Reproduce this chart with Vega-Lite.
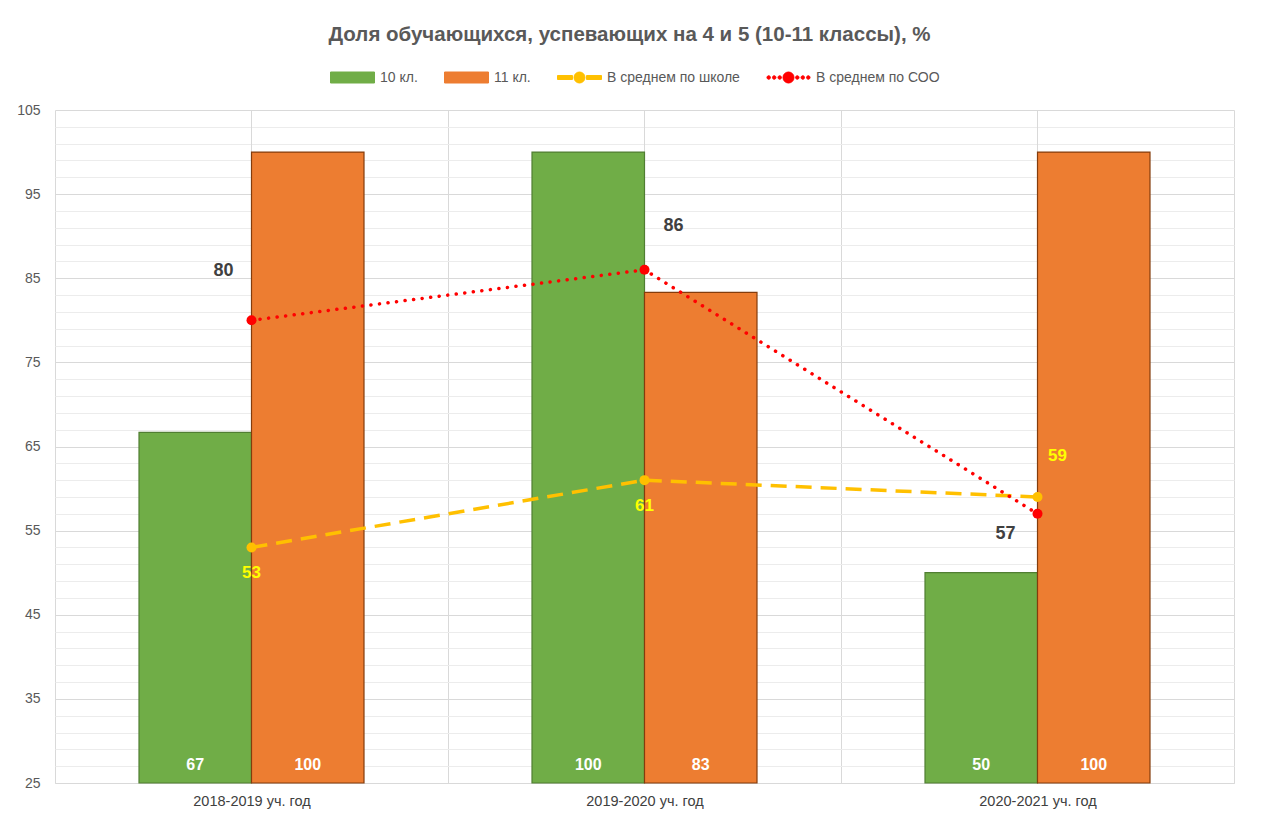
{
  "$schema": "https://vega.github.io/schema/vega-lite/v6.json",
  "width": 1179,
  "height": 673,
  "autosize": {"type": "none"},
  "padding": {"left": 55, "top": 110, "right": 27, "bottom": 35},
  "background": "white",
  "title": {
    "text": "Доля обучающихся, успевающих на 4 и 5 (10-11 классы), %",
    "font": "Liberation Sans",
    "fontSize": 20.5,
    "fontWeight": "bold",
    "color": "#595959",
    "anchor": "middle",
    "dx": -15,
    "offset": 10
  },
  "config": {"view": {"stroke": null}, "font": "Liberation Sans"},
  "datasets": {
    "bars": [
      {"year": "2018-2019 уч. год", "series": "10 кл.", "value": 66.67},
      {"year": "2018-2019 уч. год", "series": "11 кл.", "value": 100},
      {"year": "2019-2020 уч. год", "series": "10 кл.", "value": 100},
      {"year": "2019-2020 уч. год", "series": "11 кл.", "value": 83.33},
      {"year": "2020-2021 уч. год", "series": "10 кл.", "value": 50},
      {"year": "2020-2021 уч. год", "series": "11 кл.", "value": 100}
    ],
    "lines": [
      {"year": "2018-2019 уч. год", "series": "В среднем по школе", "value": 53},
      {"year": "2019-2020 уч. год", "series": "В среднем по школе", "value": 61},
      {"year": "2020-2021 уч. год", "series": "В среднем по школе", "value": 59},
      {"year": "2018-2019 уч. год", "series": "В среднем по СОО", "value": 80},
      {"year": "2019-2020 уч. год", "series": "В среднем по СОО", "value": 86},
      {"year": "2020-2021 уч. год", "series": "В среднем по СОО", "value": 57}
    ]
  },
  "encoding": {
    "x": {
      "field": "year",
      "type": "nominal",
      "sort": null,
      "title": null,
      "scale": {"paddingInner": 0, "paddingOuter": 0},
      "axis": {
        "grid": true,
        "tickBand": "extent",
        "gridColor": "#d9d9d9",
        "domain": true,
        "domainColor": "#d9d9d9",
        "ticks": false,
        "labelAngle": 0,
        "labelFont": "Liberation Sans",
        "labelFontSize": 14.5,
        "labelColor": "#404040",
        "labelPadding": 11
      }
    },
    "y": {
      "field": "value",
      "type": "quantitative",
      "title": null,
      "scale": {"domain": [25, 105], "zero": false, "nice": false},
      "axis": {
        "values": [25, 27, 29, 31, 33, 35, 37, 39, 41, 43, 45, 47, 49, 51, 53, 55, 57, 59, 61, 63, 65, 67, 69, 71, 73, 75, 77, 79, 81, 83, 85, 87, 89, 91, 93, 95, 97, 99, 101, 103, 105],
        "labelExpr": "(datum.value - 25) % 10 === 0 ? datum.label : ''",
        "gridColor": {"condition": {"test": "(datum.value - 25) % 10 === 0", "value": "#d9d9d9"}, "value": "#ececec"},
        "domain": false,
        "ticks": false,
        "labelFont": "Liberation Sans",
        "labelFontSize": 14,
        "labelColor": "#595959",
        "labelPadding": 15
      }
    }
  },
  "layer": [
    {
      "data": {"name": "bars"},
      "transform": [{"filter": "datum.series === '10 кл.'"}],
      "mark": {"type": "rule", "color": "#d9d9d9", "strokeWidth": 1},
      "encoding": {"y": {"datum": 25}, "y2": {"datum": 105}}
    },
    {
      "data": {"name": "bars"},
      "mark": {"type": "bar", "strokeWidth": 1.2},
      "encoding": {
        "xOffset": {"field": "series", "type": "nominal", "sort": null, "scale": {"paddingInner": 0, "paddingOuter": 0.7467}},
        "y2": {"datum": 25},
        "color": {
          "field": "series",
          "type": "nominal",
          "scale": {
            "domain": ["10 кл.", "11 кл.", "В среднем по школе", "В среднем по СОО"],
            "range": ["#70ad47", "#ed7d31", "#ffc000", "#ff0000"]
          },
          "legend": {
            "orient": "none",
            "legendX": 275,
            "legendY": -55,
            "direction": "horizontal",
            "title": null,
            "labelFont": "Liberation Sans",
            "labelFontSize": 14,
            "labelColor": "#595959",
            "symbolSize": 1936,
            "labelOffset": 5,
            "columnPadding": 24,
            "encode": {
              "symbols": {
                "update": {
                  "shape": {"signal": "datum.value === 'В среднем по школе' ? 'M-1,-0.09H-0.32V0.09H-1Z M0.32,-0.09H1V0.09H0.32Z M-0.25,0A0.25,0.25 0 1,0 0.25,0A0.25,0.25 0 1,0 -0.25,0Z' : datum.value === 'В среднем по СОО' ? 'M-0.98,0A0.08,0.08 0 1,0 -0.82,0A0.08,0.08 0 1,0 -0.98,0Z M-0.73,0A0.08,0.08 0 1,0 -0.57,0A0.08,0.08 0 1,0 -0.73,0Z M-0.48,0A0.08,0.08 0 1,0 -0.32,0A0.08,0.08 0 1,0 -0.48,0Z M0.32,0A0.08,0.08 0 1,0 0.48,0A0.08,0.08 0 1,0 0.32,0Z M0.57,0A0.08,0.08 0 1,0 0.73,0A0.08,0.08 0 1,0 0.57,0Z M0.82,0A0.08,0.08 0 1,0 0.98,0A0.08,0.08 0 1,0 0.82,0Z M-0.25,0A0.25,0.25 0 1,0 0.25,0A0.25,0.25 0 1,0 -0.25,0Z' : 'M-1,-0.25H1V0.25H-1Z'"},
                  "fill": {"signal": "scale('color', datum.value)"},
                  "stroke": {"signal": "datum.value === '10 кл.' ? '#507e32' : datum.value === '11 кл.' ? '#843c0c' : 'transparent'"},
                  "strokeWidth": {"value": 1},
                  "opacity": {"value": 1}
                }
              }
            }
          }
        },
        "stroke": {
          "field": "series",
          "type": "nominal",
          "scale": {"domain": ["10 кл.", "11 кл."], "range": ["#507e32", "#843c0c"]},
          "legend": null
        }
      }
    },
    {
      "data": {"name": "bars"},
      "mark": {"type": "text", "color": "white", "fontWeight": "bold", "fontSize": 16, "font": "Liberation Sans", "dy": -18, "baseline": "middle"},
      "encoding": {
        "xOffset": {"field": "series", "type": "nominal", "sort": null},
        "y": {"datum": 25},
        "text": {"field": "value", "type": "quantitative", "format": ".0f"}
      }
    },
    {
      "data": {"name": "lines"},
      "transform": [{"filter": "datum.series === 'В среднем по школе'"}],
      "mark": {"type": "line", "strokeWidth": 3.5, "strokeDash": [16, 9]},
      "encoding": {"color": {"field": "series", "type": "nominal"}}
    },
    {
      "data": {"name": "lines"},
      "transform": [{"filter": "datum.series === 'В среднем по СОО'"}],
      "mark": {"type": "line", "strokeWidth": 3.5, "strokeDash": [0.1, 8.5], "strokeCap": "round"},
      "encoding": {"color": {"field": "series", "type": "nominal"}}
    },
    {
      "data": {"name": "lines"},
      "mark": {"type": "point", "filled": true, "size": 100, "opacity": 1},
      "encoding": {"color": {"field": "series", "type": "nominal"}}
    },
    {
      "data": {"name": "lines"},
      "transform": [{"filter": "datum.series === 'В среднем по школе' && datum.year !== '2020-2021 уч. год'"}],
      "mark": {"type": "text", "color": "#ffff00", "fontWeight": "bold", "fontSize": 17, "font": "Liberation Sans", "dy": 26, "baseline": "middle"},
      "encoding": {"text": {"field": "value", "type": "quantitative"}}
    },
    {
      "data": {"name": "lines"},
      "transform": [{"filter": "datum.series === 'В среднем по школе' && datum.year === '2020-2021 уч. год'"}],
      "mark": {"type": "text", "color": "#ffff00", "fontWeight": "bold", "fontSize": 17, "font": "Liberation Sans", "dx": 20, "dy": -41, "baseline": "middle"},
      "encoding": {"text": {"field": "value", "type": "quantitative"}}
    },
    {
      "data": {"name": "lines"},
      "transform": [{"filter": "datum.series === 'В среднем по СОО' && datum.year === '2018-2019 уч. год'"}],
      "mark": {"type": "text", "color": "#404040", "fontWeight": "bold", "fontSize": 18, "font": "Liberation Sans", "dx": -28, "dy": -49, "baseline": "middle"},
      "encoding": {"text": {"field": "value", "type": "quantitative"}}
    },
    {
      "data": {"name": "lines"},
      "transform": [{"filter": "datum.series === 'В среднем по СОО' && datum.year === '2019-2020 уч. год'"}],
      "mark": {"type": "text", "color": "#404040", "fontWeight": "bold", "fontSize": 18, "font": "Liberation Sans", "dx": 29, "dy": -44, "baseline": "middle"},
      "encoding": {"text": {"field": "value", "type": "quantitative"}}
    },
    {
      "data": {"name": "lines"},
      "transform": [{"filter": "datum.series === 'В среднем по СОО' && datum.year === '2020-2021 уч. год'"}],
      "mark": {"type": "text", "color": "#404040", "fontWeight": "bold", "fontSize": 18, "font": "Liberation Sans", "dx": -32, "dy": 20, "baseline": "middle"},
      "encoding": {"text": {"field": "value", "type": "quantitative"}}
    }
  ]
}
